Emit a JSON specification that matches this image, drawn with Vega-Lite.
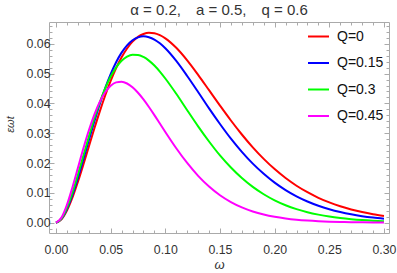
{
  "$schema": "https://vega.github.io/schema/vega-lite/v6.json",
  "width": 340,
  "height": 211,
  "autosize": "none",
  "padding": {"left": 49, "top": 22, "right": 8, "bottom": 40},
  "config": {
    "view": {"stroke": "#aaaaaa", "strokeWidth": 1},
    "font": "Liberation Sans",
    "axis": {"grid": false, "domain": false, "tickColor": "#aaaaaa", "tickWidth": 1, "labelColor": "#333333", "labelFontSize": 12.3, "labelFont": "Liberation Sans"}
  },
  "title": {"text": "α = 0.2,\u2003a = 0.5,\u2003q = 0.6", "fontSize": 15, "fontWeight": "normal", "color": "#333333", "font": "Liberation Sans", "offset": 4, "anchor": "middle"},
  "data": {"values": [
    {"w":0,"Q":"Q=0","e":0},{"w":0.005,"Q":"Q=0","e":0.00111},{"w":0.01,"Q":"Q=0","e":0.00407},{"w":0.015,"Q":"Q=0","e":0.00839},{"w":0.02,"Q":"Q=0","e":0.01365},{"w":0.025,"Q":"Q=0","e":0.01945},{"w":0.03,"Q":"Q=0","e":0.02549},{"w":0.035,"Q":"Q=0","e":0.0315},{"w":0.04,"Q":"Q=0","e":0.03726},{"w":0.045,"Q":"Q=0","e":0.04265},{"w":0.05,"Q":"Q=0","e":0.04753},{"w":0.055,"Q":"Q=0","e":0.05184},{"w":0.06,"Q":"Q=0","e":0.05547},{"w":0.065,"Q":"Q=0","e":0.05843},{"w":0.07,"Q":"Q=0","e":0.0607},{"w":0.075,"Q":"Q=0","e":0.06233},{"w":0.08,"Q":"Q=0","e":0.06329},{"w":0.085,"Q":"Q=0","e":0.0637},{"w":0.09,"Q":"Q=0","e":0.06356},{"w":0.095,"Q":"Q=0","e":0.0629},{"w":0.1,"Q":"Q=0","e":0.06183},{"w":0.11,"Q":"Q=0","e":0.05866},{"w":0.12,"Q":"Q=0","e":0.05445},{"w":0.13,"Q":"Q=0","e":0.04959},{"w":0.14,"Q":"Q=0","e":0.04444},{"w":0.15,"Q":"Q=0","e":0.03928},{"w":0.16,"Q":"Q=0","e":0.03427},{"w":0.17,"Q":"Q=0","e":0.02958},{"w":0.18,"Q":"Q=0","e":0.02527},{"w":0.19,"Q":"Q=0","e":0.02141},{"w":0.2,"Q":"Q=0","e":0.01797},{"w":0.21,"Q":"Q=0","e":0.01497},{"w":0.22,"Q":"Q=0","e":0.0124},{"w":0.23,"Q":"Q=0","e":0.01022},{"w":0.24,"Q":"Q=0","e":0.00835},{"w":0.25,"Q":"Q=0","e":0.0068},{"w":0.26,"Q":"Q=0","e":0.00551},{"w":0.27,"Q":"Q=0","e":0.00445},{"w":0.28,"Q":"Q=0","e":0.00357},{"w":0.29,"Q":"Q=0","e":0.00286},{"w":0.3,"Q":"Q=0","e":0.00228},
    {"w":0,"Q":"Q=0.15","e":0},{"w":0.005,"Q":"Q=0.15","e":0.00125},{"w":0.01,"Q":"Q=0.15","e":0.00455},{"w":0.015,"Q":"Q=0.15","e":0.0093},{"w":0.02,"Q":"Q=0.15","e":0.01502},{"w":0.025,"Q":"Q=0.15","e":0.02124},{"w":0.03,"Q":"Q=0.15","e":0.02763},{"w":0.035,"Q":"Q=0.15","e":0.03388},{"w":0.04,"Q":"Q=0.15","e":0.03977},{"w":0.045,"Q":"Q=0.15","e":0.04513},{"w":0.05,"Q":"Q=0.15","e":0.04983},{"w":0.055,"Q":"Q=0.15","e":0.0538},{"w":0.06,"Q":"Q=0.15","e":0.05702},{"w":0.065,"Q":"Q=0.15","e":0.05948},{"w":0.07,"Q":"Q=0.15","e":0.0612},{"w":0.075,"Q":"Q=0.15","e":0.06216},{"w":0.08,"Q":"Q=0.15","e":0.0625},{"w":0.085,"Q":"Q=0.15","e":0.06221},{"w":0.09,"Q":"Q=0.15","e":0.06143},{"w":0.095,"Q":"Q=0.15","e":0.06015},{"w":0.1,"Q":"Q=0.15","e":0.05848},{"w":0.11,"Q":"Q=0.15","e":0.05424},{"w":0.12,"Q":"Q=0.15","e":0.0492},{"w":0.13,"Q":"Q=0.15","e":0.04383},{"w":0.14,"Q":"Q=0.15","e":0.03834},{"w":0.15,"Q":"Q=0.15","e":0.0331},{"w":0.16,"Q":"Q=0.15","e":0.02818},{"w":0.17,"Q":"Q=0.15","e":0.02376},{"w":0.18,"Q":"Q=0.15","e":0.01981},{"w":0.19,"Q":"Q=0.15","e":0.0164},{"w":0.2,"Q":"Q=0.15","e":0.01343},{"w":0.21,"Q":"Q=0.15","e":0.01093},{"w":0.22,"Q":"Q=0.15","e":0.00884},{"w":0.23,"Q":"Q=0.15","e":0.0071},{"w":0.24,"Q":"Q=0.15","e":0.00567},{"w":0.25,"Q":"Q=0.15","e":0.00451},{"w":0.26,"Q":"Q=0.15","e":0.00357},{"w":0.27,"Q":"Q=0.15","e":0.00281},{"w":0.28,"Q":"Q=0.15","e":0.0022},{"w":0.29,"Q":"Q=0.15","e":0.00172},{"w":0.3,"Q":"Q=0.15","e":0.00134},
    {"w":0,"Q":"Q=0.3","e":0},{"w":0.005,"Q":"Q=0.3","e":0.00138},{"w":0.01,"Q":"Q=0.3","e":0.00498},{"w":0.015,"Q":"Q=0.3","e":0.01009},{"w":0.02,"Q":"Q=0.3","e":0.01608},{"w":0.025,"Q":"Q=0.3","e":0.02245},{"w":0.03,"Q":"Q=0.3","e":0.02879},{"w":0.035,"Q":"Q=0.3","e":0.03484},{"w":0.04,"Q":"Q=0.3","e":0.04032},{"w":0.045,"Q":"Q=0.3","e":0.04506},{"w":0.05,"Q":"Q=0.3","e":0.04901},{"w":0.055,"Q":"Q=0.3","e":0.0521},{"w":0.06,"Q":"Q=0.3","e":0.05432},{"w":0.065,"Q":"Q=0.3","e":0.0557},{"w":0.07,"Q":"Q=0.3","e":0.05633},{"w":0.075,"Q":"Q=0.3","e":0.05627},{"w":0.08,"Q":"Q=0.3","e":0.05558},{"w":0.085,"Q":"Q=0.3","e":0.05436},{"w":0.09,"Q":"Q=0.3","e":0.0527},{"w":0.095,"Q":"Q=0.3","e":0.05068},{"w":0.1,"Q":"Q=0.3","e":0.04836},{"w":0.11,"Q":"Q=0.3","e":0.04323},{"w":0.12,"Q":"Q=0.3","e":0.03773},{"w":0.13,"Q":"Q=0.3","e":0.03231},{"w":0.14,"Q":"Q=0.3","e":0.02723},{"w":0.15,"Q":"Q=0.3","e":0.02256},{"w":0.16,"Q":"Q=0.3","e":0.0185},{"w":0.17,"Q":"Q=0.3","e":0.01498},{"w":0.18,"Q":"Q=0.3","e":0.01201},{"w":0.19,"Q":"Q=0.3","e":0.00955},{"w":0.2,"Q":"Q=0.3","e":0.00751},{"w":0.21,"Q":"Q=0.3","e":0.00587},{"w":0.22,"Q":"Q=0.3","e":0.00456},{"w":0.23,"Q":"Q=0.3","e":0.00352},{"w":0.24,"Q":"Q=0.3","e":0.00271},{"w":0.25,"Q":"Q=0.3","e":0.00206},{"w":0.26,"Q":"Q=0.3","e":0.00157},{"w":0.27,"Q":"Q=0.3","e":0.00119},{"w":0.28,"Q":"Q=0.3","e":0.00089},{"w":0.29,"Q":"Q=0.3","e":0.00067},{"w":0.3,"Q":"Q=0.3","e":0.0005},
    {"w":0,"Q":"Q=0.45","e":0},{"w":0.005,"Q":"Q=0.45","e":0.0017},{"w":0.01,"Q":"Q=0.45","e":0.00599},{"w":0.015,"Q":"Q=0.45","e":0.01182},{"w":0.02,"Q":"Q=0.45","e":0.0183},{"w":0.025,"Q":"Q=0.45","e":0.02484},{"w":0.03,"Q":"Q=0.45","e":0.03091},{"w":0.035,"Q":"Q=0.45","e":0.03618},{"w":0.04,"Q":"Q=0.45","e":0.04051},{"w":0.045,"Q":"Q=0.45","e":0.04375},{"w":0.05,"Q":"Q=0.45","e":0.04591},{"w":0.055,"Q":"Q=0.45","e":0.04706},{"w":0.06,"Q":"Q=0.45","e":0.04728},{"w":0.065,"Q":"Q=0.45","e":0.04668},{"w":0.07,"Q":"Q=0.45","e":0.04539},{"w":0.075,"Q":"Q=0.45","e":0.04357},{"w":0.08,"Q":"Q=0.45","e":0.04134},{"w":0.085,"Q":"Q=0.45","e":0.0388},{"w":0.09,"Q":"Q=0.45","e":0.03609},{"w":0.095,"Q":"Q=0.45","e":0.03327},{"w":0.1,"Q":"Q=0.45","e":0.03044},{"w":0.11,"Q":"Q=0.45","e":0.02498},{"w":0.12,"Q":"Q=0.45","e":0.02003},{"w":0.13,"Q":"Q=0.45","e":0.01571},{"w":0.14,"Q":"Q=0.45","e":0.01213},{"w":0.15,"Q":"Q=0.45","e":0.00921},{"w":0.16,"Q":"Q=0.45","e":0.00692},{"w":0.17,"Q":"Q=0.45","e":0.00513},{"w":0.18,"Q":"Q=0.45","e":0.00376},{"w":0.19,"Q":"Q=0.45","e":0.00273},{"w":0.2,"Q":"Q=0.45","e":0.00197},{"w":0.21,"Q":"Q=0.45","e":0.00141},{"w":0.22,"Q":"Q=0.45","e":0.001},{"w":0.23,"Q":"Q=0.45","e":0.00071},{"w":0.24,"Q":"Q=0.45","e":0.0005},{"w":0.25,"Q":"Q=0.45","e":0.00035},{"w":0.26,"Q":"Q=0.45","e":0.00024},{"w":0.27,"Q":"Q=0.45","e":0.00017},{"w":0.28,"Q":"Q=0.45","e":0.00012},{"w":0.29,"Q":"Q=0.45","e":0.00008},{"w":0.3,"Q":"Q=0.45","e":0.00005}
  ]},
  "layer": [
    {
      "mark": {"type": "line", "strokeWidth": 2, "interpolate": "monotone"},
      "encoding": {
        "x": {"field": "w", "type": "quantitative", "scale": {"domain": [-0.0064, 0.3046], "nice": false, "zero": false},
          "axis": {"orient": "bottom", "title": "ω", "titleFontStyle": "italic", "titleFontWeight": "normal", "titleFontSize": 13, "titleColor": "#333333", "titlePadding": 3,
            "values": [0,0.01,0.02,0.03,0.04,0.05,0.06,0.07,0.08,0.09,0.1,0.11,0.12,0.13,0.14,0.15,0.16,0.17,0.18,0.19,0.2,0.21,0.22,0.23,0.24,0.25,0.26,0.27,0.28,0.29,0.3],
            "format": ".2f", "labelPadding": 15, "labelFlush": false,
            "labelExpr": "abs(datum.value*20-round(datum.value*20))<0.001 ? datum.label : ''",
            "tickSize": {"condition": {"test": "abs(datum.value*20-round(datum.value*20))<0.001", "value": -5}, "value": -3}}},
        "y": {"field": "e", "type": "quantitative", "scale": {"domain": [-0.00345, 0.0673], "nice": false, "zero": false},
          "axis": {"orient": "left", "title": "εωt", "titleFontStyle": "italic", "titleFontWeight": "normal", "titleFontSize": 11, "titleColor": "#333333", "titleAngle": -90, "titleX": -39, "titleY": 102, "titleAlign": "center", "titleBaseline": "middle",
            "values": [-0.002,0,0.002,0.004,0.006,0.008,0.01,0.012,0.014,0.016,0.018,0.02,0.022,0.024,0.026,0.028,0.03,0.032,0.034,0.036,0.038,0.04,0.042,0.044,0.046,0.048,0.05,0.052,0.054,0.056,0.058,0.06,0.062,0.064,0.066],
            "format": ".2f", "labelPadding": 4, "labelFlush": false,
            "labelExpr": "abs(datum.value*100-round(datum.value*100))<0.001 ? datum.label : ''",
            "tickSize": {"condition": {"test": "abs(datum.value*100-round(datum.value*100))<0.001", "value": -5}, "value": -3}}},
        "color": {"field": "Q", "type": "nominal",
          "scale": {"domain": ["Q=0", "Q=0.15", "Q=0.3", "Q=0.45"], "range": ["#ff0000", "#0000ff", "#00ff00", "#ff00ff"]},
          "legend": {"orient": "none", "legendX": 258, "legendY": 3, "title": null, "symbolType": "stroke", "symbolSize": 441, "symbolStrokeWidth": 2, "labelFontSize": 14, "labelColor": "#111111", "labelFont": "Liberation Sans", "labelOffset": 7, "rowPadding": 7.5, "padding": 0}}
      }
    },
    {
      "mark": {"type": "line", "opacity": 0},
      "encoding": {
        "x": {"field": "w", "type": "quantitative",
          "axis": {"orient": "top", "title": null, "labels": false,
            "values": [0,0.01,0.02,0.03,0.04,0.05,0.06,0.07,0.08,0.09,0.1,0.11,0.12,0.13,0.14,0.15,0.16,0.17,0.18,0.19,0.2,0.21,0.22,0.23,0.24,0.25,0.26,0.27,0.28,0.29,0.3],
            "tickSize": {"condition": {"test": "abs(datum.value*20-round(datum.value*20))<0.001", "value": -5}, "value": -3}}},
        "y": {"field": "e", "type": "quantitative",
          "axis": {"orient": "right", "title": null, "labels": false,
            "values": [-0.002,0,0.002,0.004,0.006,0.008,0.01,0.012,0.014,0.016,0.018,0.02,0.022,0.024,0.026,0.028,0.03,0.032,0.034,0.036,0.038,0.04,0.042,0.044,0.046,0.048,0.05,0.052,0.054,0.056,0.058,0.06,0.062,0.064,0.066],
            "tickSize": {"condition": {"test": "abs(datum.value*100-round(datum.value*100))<0.001", "value": -5}, "value": -3}}}
      }
    }
  ],
  "resolve": {"axis": {"x": "independent", "y": "independent"}}
}
